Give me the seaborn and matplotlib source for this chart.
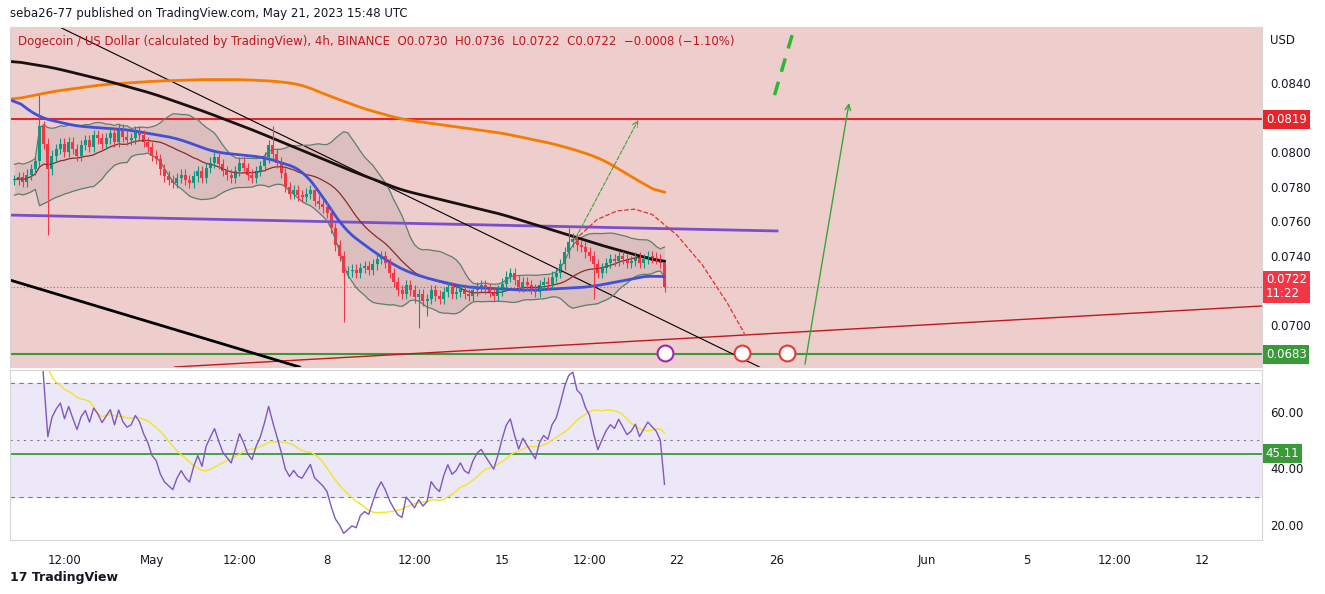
import numpy as np
import pandas as pd
import matplotlib
matplotlib.use("Agg")
import matplotlib.pyplot as plt
import matplotlib.transforms as mtrans
import seaborn as sns

# ---- data (prices in 1e-5 USD, 4h bars starting Apr 25 12:00) ----
closes = [7840, 7855, 7830, 7870,
          7900, 7950, 8150, 8050, 7900, 7980,
          8020, 8050, 8000, 8060, 8020, 7980,
          8040, 8070, 8030, 8100, 8080, 8050,
          8080, 8110, 8060, 8130, 8090, 8070,
          8080, 8120, 8100, 8060, 8030, 7980,
          7960, 7900, 7860, 7840, 7820, 7850,
          7870, 7840, 7820, 7860, 7890, 7850,
          7910, 7940, 7970, 7930, 7890, 7870,
          7850, 7890, 7940, 7910, 7870, 7850,
          7890, 7920, 7970, 8040, 7990, 7940,
          7880, 7800, 7760, 7780, 7750, 7740,
          7760, 7780, 7720, 7700, 7680, 7650,
          7560, 7460, 7400, 7300, 7310, 7320,
          7300, 7330, 7340, 7320, 7350, 7380,
          7400, 7360, 7300, 7250, 7200, 7180,
          7230, 7200, 7160, 7180, 7140, 7150,
          7200, 7170, 7150, 7190, 7220, 7180,
          7190, 7210, 7180, 7170, 7200, 7220,
          7230, 7210, 7190, 7170, 7200, 7240,
          7280, 7300, 7260, 7220, 7250, 7230,
          7210, 7190, 7230, 7250, 7240, 7280,
          7300, 7350, 7420, 7480, 7500, 7460,
          7450, 7420, 7400, 7350, 7300, 7330,
          7360, 7380, 7370, 7400, 7380, 7360,
          7370, 7390, 7360, 7380, 7400, 7390,
          7380, 7360, 7220]
high_spikes = {6: 8330, 62: 8150, 133: 7560, 156: 7360}
low_spikes = {8: 7520, 79: 7020, 97: 6980, 99: 7050, 139: 7150}

# hand-traced moving averages (day since May 1, price)
orange_ma = [(-5.7, 0.0830), (-4, 0.0835), (-2, 0.0839), (0, 0.0841), (2, 0.0842), (3.5, 0.0842),
             (5, 0.0841), (6, 0.0839), (7, 0.0833), (8.5, 0.0825), (10, 0.0819), (12, 0.0815),
             (14, 0.0811), (16, 0.0805), (17, 0.0801), (18, 0.0796), (19.5, 0.0783), (20.5, 0.0775)]
black_ma = [(-5.7, 0.0853), (-4, 0.0849), (-2, 0.0842), (0, 0.0834), (2, 0.0824), (4, 0.0813),
            (6, 0.0801), (8, 0.0789), (10, 0.0778), (12, 0.0771), (14, 0.0764), (16, 0.0755),
            (18, 0.0746), (20.5, 0.0736)]
blue_ma = [(-5.7, 0.0833), (-5, 0.0825), (-4.5, 0.0820), (-3, 0.0815), (-1, 0.0813), (1, 0.0808),
           (2.5, 0.0800), (4.5, 0.0797), (6, 0.0790), (6.8, 0.0775), (7.7, 0.0755), (9, 0.0741),
           (10, 0.0732), (11, 0.0727), (12.5, 0.0722), (15, 0.0720), (17.5, 0.0722), (19, 0.0726),
           (20, 0.0729), (20.5, 0.0727)]

date_pos = [-3.5, 0, 3.5, 7, 10.5, 14, 17.5, 21, 25, 31, 35, 38.5, 42]
date_lbl = ["12:00", "May", "12:00", "8", "12:00", "15", "12:00", "22", "26", "Jun", "5", "12:00", "12"]
price_ticks = [0.0700, 0.0740, 0.0760, 0.0780, 0.0800, 0.0840]
rsi_ticks = [20, 40, 60]

GREEN, RED = "#089981", "#f23645"

c = np.array(closes) / 1e5
o = np.r_[c[0], c[:-1]]
hi = np.maximum(o, c) + 0.0003
lo = np.minimum(o, c) - 0.0003
for k, v in high_spikes.items():
    hi[k] = v / 1e5
for k, v in low_spikes.items():
    lo[k] = v / 1e5
t = -5.5 + np.arange(len(c)) / 6
df = pd.DataFrame({"t": t, "o": o, "c": c, "h": hi, "l": lo})

W, H = 1325, 594
fig = plt.figure(figsize=(W / 100, H / 100), dpi=100)
ax = fig.add_axes([10 / W, (H - 367) / H, 1252 / W, 340 / H])
rx = fig.add_axes([10 / W, (H - 540) / H, 1252 / W, 170 / H], sharex=ax)
xmin, xmax = -5.68, 44.4
ax.set_xlim(xmin, xmax)
ax.set_ylim(0.06757, 0.08724)
ax.set_facecolor("#eecdcd")

# horizontal levels
ax.axhline(0.0819, color="#e8242b", lw=1.5)
ax.axhline(0.0683, color="#3a9a3a", lw=1.5)
ax.axhline(0.0722, color="#777777", lw=0.8, ls=(0, (1, 2)))
ax.plot([-5.68, 25], [0.07636, 0.07544], color="#7b4fc9", lw=2)
ax.plot([0.9, 44.4], [0.06757, 0.0711], color="#c0181d", lw=1)
ax.plot([-3.7, 24.3], [0.08724, 0.06757], color="black", lw=0.8)
ax.plot([-5.68, 5.9], [0.0726, 0.06757], color="black", lw=2)

# bollinger
mid = df["c"].rolling(20, min_periods=1).mean()
sd = df["c"].rolling(20, min_periods=6).std().bfill()
ax.fill_between(t, mid + 2 * sd, mid - 2 * sd, color="#d2b4b4", alpha=0.6, lw=0)
ax.plot(t, mid + 2 * sd, color="#5e7d6e", lw=0.9)
ax.plot(t, mid - 2 * sd, color="#5e7d6e", lw=0.9)
ax.plot(t, mid, color="#8b2a2a", lw=0.9)

grid = np.linspace(-5.7, 20.5, 400)
for pts, col in [(orange_ma, "#f57c00"), (black_ma, "#1a1010"), (blue_ma, "#3f51d8")]:
    xs, ys = zip(*pts)
    yy = pd.Series(np.interp(grid, xs, ys)).rolling(15, center=True, min_periods=1).mean()
    ax.plot(grid, yy, color=col, lw=2)

# candles
cols = np.where(df["c"] >= df["o"], GREEN, RED)
ax.vlines(df["t"], df["l"], df["h"], colors=cols, lw=0.8)
ax.bar(df["t"], (df["c"] - df["o"]).abs().clip(lower=0.00005), bottom=np.minimum(df["o"], df["c"]),
       width=0.12, color=cols)

# drawings
ax.annotate("", xy=(19.5, 0.0820), xytext=(16.9, 0.0749),
            arrowprops=dict(arrowstyle="->", color="#3aa63a", ls="--", lw=0.8))
ax.annotate("", xy=(27.9, 0.0830), xytext=(26.1, 0.06757),
            arrowprops=dict(arrowstyle="->", color="#3aa63a", lw=1))
ax.plot([24.9, 25.7], [0.0833, 0.08724], color="#2fb52f", lw=2.5, ls=(0, (4, 3)))
arc_x = [16.9, 17.8, 18.6, 19.3, 20.0, 21.0, 22.0, 23.0, 23.7]
arc_y = [0.0749, 0.0761, 0.0766, 0.0767, 0.0764, 0.0752, 0.0735, 0.0713, 0.0695]
ax.plot(arc_x, arc_y, color="#e03030", lw=0.9, ls="--")
for xi, col in [(20.5, "#9c27b0"), (23.6, "#e53935"), (25.4, "#e53935")]:
    ax.scatter([xi], [0.0684], s=130, color="white", edgecolor=col, lw=1.5, zorder=5)

# right price axis
for a in (ax, rx):
    a.yaxis.tick_right()
    a.tick_params(axis="y", length=0, labelsize=8.5, colors="#131722", pad=6)
    for s in a.spines.values():
        s.set_color("#d6d6d6")
ax.set_yticks(price_ticks, [f"{v:.4f}" for v in price_ticks])
ax.tick_params(axis="x", bottom=False, labelbottom=False)
box = dict(boxstyle="square,pad=0.25", lw=0)
trans = mtrans.blended_transform_factory(ax.transAxes, ax.transData)
ax.text(1.003, 0.0819, "0.0819", transform=trans, va="center", fontsize=8.5, color="white", bbox={**box, "fc": "#e8242b"})
ax.text(1.003, 0.0683, "0.0683", transform=trans, va="center", fontsize=8.5, color="white", bbox={**box, "fc": "#3a9a3a"})
ax.text(1.003, 0.0722, "0.0722\n11:22", transform=trans, va="center", fontsize=8.5, color="white",
        linespacing=1.1, bbox={**box, "fc": RED})
fig.text(1270 / W, 1 - 40 / H, "USD", fontsize=8.5, color="#131722", va="center")

# RSI panel
delta = df["c"].diff().fillna(0)
up = delta.clip(lower=0).ewm(alpha=1 / 14, min_periods=6).mean()
dn = (-delta.clip(upper=0)).ewm(alpha=1 / 14, min_periods=6).mean()
rsi = 100 - 100 / (1 + up / dn.replace(0, 1e-9))
rdf = pd.DataFrame({"t": t, "rsi": rsi, "sma": rsi.rolling(14, min_periods=1).mean()}).dropna()
rx.set_ylim(14.7, 74.7)
rx.axhspan(30, 70, color="#ede8f7")
for lvl, ls in [(70, (0, (4, 4))), (50, (0, (2, 4))), (30, (0, (4, 4)))]:
    rx.axhline(lvl, color="#787b86", lw=0.8, ls=ls)
rx.axhline(45.11, color="#3a9a3a", lw=1.3)
sns.lineplot(data=rdf, x="t", y="sma", ax=rx, color="#f2e32a", lw=1)
sns.lineplot(data=rdf, x="t", y="rsi", ax=rx, color="#7e57c2", lw=1)
rx.set_xlabel("")
rx.set_ylabel("")
rx.set_yticks(rsi_ticks, [f"{v:.2f}" for v in rsi_ticks])
rtrans = mtrans.blended_transform_factory(rx.transAxes, rx.transData)
rx.text(1.003, 45.11, "45.11", transform=rtrans, va="center", fontsize=8.5, color="white", bbox={**box, "fc": "#3a9a3a"})
rx.set_xticks(date_pos, date_lbl)
rx.tick_params(axis="x", length=0, labelsize=8.5, colors="#131722", pad=10)

fig.text(10 / W, 1 - 14 / H, "seba26-77 published on TradingView.com, May 21, 2023 15:48 UTC",
         fontsize=8.5, color="#131722", va="center")
fig.text(18 / W, 1 - 41 / H,
         "Dogecoin / US Dollar (calculated by TradingView), 4h, BINANCE  O0.0730  H0.0736  L0.0722  C0.0722  \u22120.0008 (\u22121.10%)",
         fontsize=8.5, color="#c0181d", va="center")
fig.text(10 / W, 1 - 577 / H, "17 TradingView", fontsize=9, color="#131722", va="center", weight="bold")

fig.savefig("out.png", dpi=100)
